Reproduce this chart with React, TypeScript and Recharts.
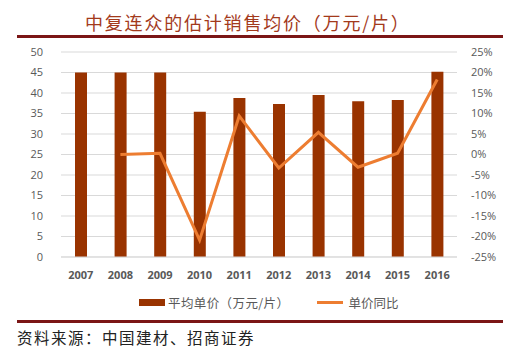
import { ComposedChart, Bar, Line, XAxis, YAxis, CartesianGrid } from 'recharts';

const years = ['2007', '2008', '2009', '2010', '2011', '2012', '2013', '2014', '2015', '2016'];
const avgPrice = [45.0, 45.0, 45.0, 35.4, 38.8, 37.3, 39.5, 38.0, 38.3, 45.2];
const yoy = [null, 0.0, 0.3, -20.9, 9.4, -3.3, 5.4, -3.1, 0.3, 18.3];
const leftTicks = [0, 5, 10, 15, 20, 25, 30, 35, 40, 45, 50];
const rightTicks = [-25, -20, -15, -10, -5, 0, 5, 10, 15, 20, 25];

const data = years.map((y, i) => ({ year: y, price: avgPrice[i], yoy: yoy[i] }));

const BAR = '#993300';
const LINE = '#ED7D31';
const RULE = '#7B1616';
const tickFont = { fill: '#595959', fontSize: 11, fontFamily: 'Open Sans, sans-serif' };

export default function App() {
  return (
    <div style={{ position: 'absolute', left: 0, top: 0, width: 509, height: 352, background: '#fff', fontFamily: '"Noto Sans CJK SC", sans-serif' }}>
      <div style={{ position: 'absolute', left: 85, top: 9, fontSize: 18, letterSpacing: 1.8, color: '#A33A1C', whiteSpace: 'nowrap', lineHeight: '26px' }}>
        中复连众的估计销售均价（万元/片）
      </div>
      <div style={{ position: 'absolute', left: 17, top: 35, width: 486, height: 3, background: RULE }} />

      <ComposedChart width={509} height={352} data={data} margin={{ top: 52, right: 0, bottom: 65, left: 0 }}>
        <CartesianGrid stroke="#D9D9D9" vertical={false} yAxisId="left" />
        <XAxis dataKey="year" axisLine={{ stroke: '#D9D9D9' }} tickLine={false} height={30} tickMargin={8}
          tick={{ ...tickFont, fontWeight: 700 }} interval={0} />
        <YAxis yAxisId="left" domain={[0, 50]} ticks={leftTicks} axisLine={false} tickLine={false} width={61}
          tick={tickFont} tickMargin={12} interval={0} />
        <YAxis yAxisId="right" orientation="right" domain={[-25, 25]} ticks={rightTicks} axisLine={false} tickLine={false}
          width={52} tick={{ ...tickFont, textAnchor: 'start' }} tickMargin={8} interval={0}
          tickFormatter={(v: number) => `${v}%`} />
        <Bar yAxisId="left" dataKey="price" fill={BAR} barSize={12} isAnimationActive={false} />
        <Line yAxisId="right" dataKey="yoy" stroke={LINE} strokeWidth={3} dot={false} type="linear"
          isAnimationActive={false} connectNulls={false} />
      </ComposedChart>

      <div style={{ position: 'absolute', left: 139, top: 293, display: 'flex', alignItems: 'center', fontSize: 12.5, color: '#595959', whiteSpace: 'nowrap' }}>
        <span style={{ width: 26, height: 7, background: BAR, display: 'inline-block', marginRight: 3 }} />
        <span style={{ letterSpacing: 0.4 }}>平均单价（万元/片）</span>
        <span style={{ width: 26, height: 3, background: LINE, display: 'inline-block', marginLeft: 28, marginRight: 5 }} />
        <span>单价同比</span>
      </div>

      <div style={{ position: 'absolute', left: 17, top: 320, width: 486, height: 3, background: RULE }} />
      <div style={{ position: 'absolute', left: 17, top: 325, fontSize: 15.5, letterSpacing: 1.5, color: '#222', whiteSpace: 'nowrap', lineHeight: '24px' }}>
        资料来源：中国建材、招商证券
      </div>
    </div>
  );
}
